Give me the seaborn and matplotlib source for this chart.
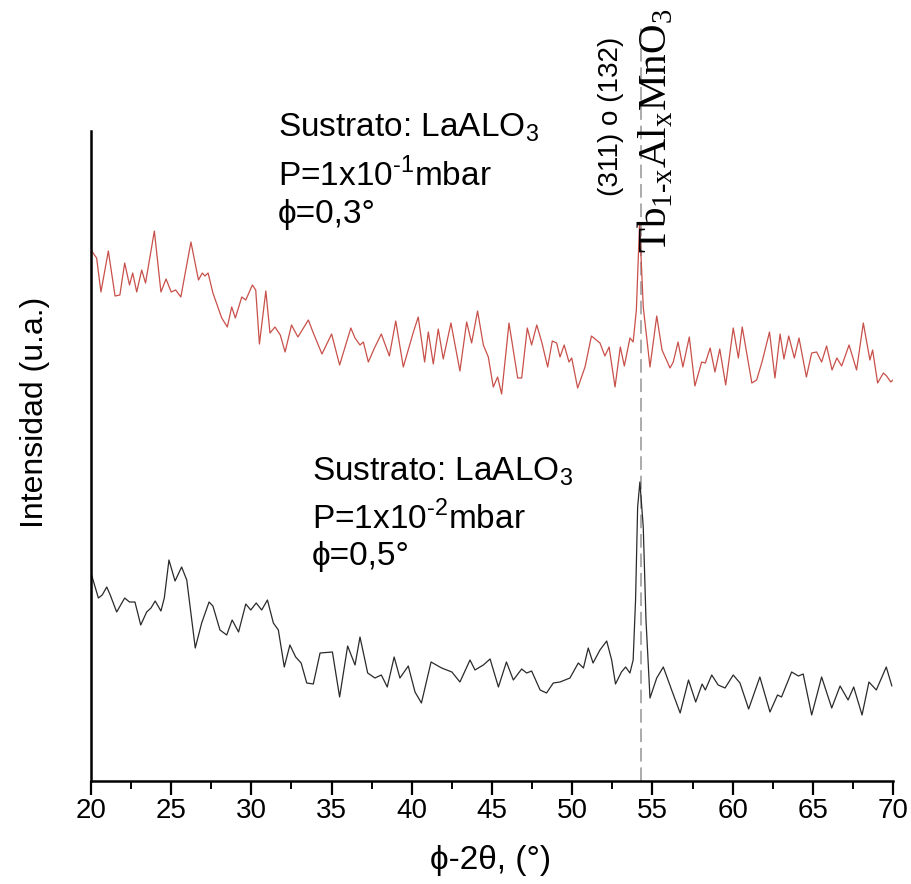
import matplotlib
matplotlib.use("Agg")
import matplotlib.pyplot as plt
import pandas as pd
import seaborn as sns

# Diffractograms (phi-2theta scans) of Tb1-xAlxMnO3 films on LaAlO3, arbitrary units
red_2theta = [20.0, 20.35, 20.62, 21.08, 21.5, 21.8, 22.1, 22.4, 22.6, 22.85,
              23.16, 23.4, 23.95, 24.36, 24.68, 25.0, 25.28, 25.6, 26.23, 26.7,
              26.94, 27.1, 27.3, 27.6, 28.15, 28.5, 28.77, 29.0, 29.4, 29.65,
              30.06, 30.27, 30.5, 30.9, 31.16, 31.47, 31.8, 32.1, 32.5, 32.9,
              33.55, 33.86, 34.4, 35.0, 35.5, 36.2, 36.46, 36.77, 36.98, 37.29,
              37.7, 38.1, 38.6, 39.0, 39.47, 40.1, 40.4, 40.8, 41.03, 41.34,
              41.65, 41.96, 42.44, 43.0, 43.42, 43.73, 44.1, 44.46, 44.77, 45.08,
              45.35, 45.6, 46.06, 46.6, 46.85, 47.2, 47.47, 47.79, 48.1, 48.47,
              48.76, 49.03, 49.24, 49.5, 49.8, 49.97, 50.34, 50.8, 51.2, 51.73,
              52.04, 52.3, 52.67, 53.0, 53.25, 53.6, 53.8, 54.0, 54.2, 54.43,
              54.85, 55.27, 55.6, 56.1, 56.3, 56.6, 56.9, 57.3, 57.65, 58.07,
              58.3, 58.6, 58.9, 59.2, 59.57, 60.04, 60.36, 60.6, 61.2, 61.5,
              61.85, 62.3, 62.64, 62.96, 63.2, 63.5, 63.85, 64.14, 64.6, 64.93,
              65.24, 65.55, 65.86, 66.2, 66.5, 66.8, 67.26, 67.73, 68.15, 68.56,
              68.73, 69.04, 69.4, 69.6, 69.86, 70.0]
red_intensity = [531, 523, 489, 530, 485, 486, 518, 496, 508, 489,
                 511, 498, 550, 489, 502, 489, 491, 484, 539, 501,
                 508, 505, 508, 488, 463, 454, 474, 463, 484, 481,
                 496, 491, 437, 490, 448, 454, 446, 429, 456, 444,
                 461, 448, 427, 447, 416, 453, 443, 436, 439, 419,
                 434, 447, 425, 460, 414, 449, 464, 419, 449, 417,
                 452, 422, 458, 410, 459, 438, 470, 436, 424, 394,
                 404, 387, 458, 403, 403, 453, 436, 456, 439, 414,
                 440, 438, 424, 436, 419, 423, 393, 414, 445, 438,
                 425, 434, 394, 434, 415, 443, 439, 471, 558, 474,
                 414, 465, 431, 413, 419, 439, 414, 444, 395, 419,
                 418, 433, 409, 432, 396, 453, 423, 454, 398, 401,
                 420, 449, 403, 447, 422, 445, 423, 443, 404, 428,
                 429, 419, 435, 411, 423, 415, 436, 411, 458, 421,
                 431, 398, 408, 405, 399, 401]

black_2theta = [20.0, 20.46, 20.7, 20.98, 21.2, 21.6, 22.1, 22.4, 22.74, 23.1,
                23.47, 23.74, 24.0, 24.36, 24.57, 24.86, 25.24, 25.65, 25.97, 26.5,
                26.9, 27.36, 27.6, 28.04, 28.46, 28.8, 29.2, 29.65, 29.96, 30.3,
                30.64, 31.0, 31.37, 31.68, 32.05, 32.4, 32.76, 33.1, 33.45, 33.86,
                34.28, 35.05, 35.5, 36.0, 36.46, 36.77, 37.25, 37.7, 38.1, 38.47,
                38.9, 39.26, 39.78, 40.2, 40.6, 41.2, 41.86, 42.5, 43.0, 43.63,
                43.94, 44.46, 44.88, 45.4, 45.9, 46.33, 46.85, 47.16, 47.47, 48.0,
                48.4, 48.82, 49.24, 49.86, 50.38, 50.7, 51.0, 51.3, 51.73, 52.15,
                52.46, 52.7, 53.07, 53.33, 53.6, 53.8, 53.95, 54.08, 54.22, 54.43,
                54.6, 54.85, 55.27, 55.68, 56.2, 56.73, 57.25, 57.7, 58.1, 58.3,
                58.7, 59.1, 59.53, 60.04, 60.46, 61.0, 61.7, 62.33, 62.8, 63.05,
                63.68, 64.1, 64.4, 64.93, 65.55, 66.18, 66.7, 67.2, 67.55, 68.07,
                68.5, 68.96, 69.58, 69.93]
black_intensity = [208, 183, 186, 194, 186, 169, 183, 179, 179, 156,
                   169, 173, 180, 170, 183, 221, 200, 214, 201, 133,
                   158, 179, 175, 151, 146, 161, 149, 177, 171, 178,
                   171, 181, 158, 151, 114, 136, 124, 118, 98, 97,
                   128, 129, 84, 135, 116, 144, 108, 103, 106, 94,
                   124, 103, 115, 89, 78, 119, 113, 109, 99, 121,
                   111, 116, 122, 94, 119, 101, 112, 108, 110, 91,
                   88, 98, 99, 103, 118, 113, 133, 118, 131, 140,
                   121, 97, 109, 114, 108, 121, 181, 274, 299, 254,
                   161, 83, 103, 114, 91, 68, 101, 79, 97, 91,
                   106, 96, 93, 106, 98, 72, 104, 69, 86, 84,
                   109, 105, 107, 66, 104, 73, 95, 81, 94, 66,
                   99, 91, 114, 95]

x_ticks = [20, 25, 30, 35, 40, 45, 50, 55, 60, 65, 70]
peak_position = 54.3

sns.set_style("ticks")
plt.rcParams['font.family'] = ['Liberation Sans', 'DejaVu Sans']
plt.rcParams['mathtext.fontset'] = 'custom'
plt.rcParams['mathtext.rm'] = 'Liberation Sans'
plt.rcParams['text.color'] = 'black'
plt.rcParams['axes.labelcolor'] = 'black'
plt.rcParams['xtick.color'] = 'black'

W, H = 911, 884
fig = plt.figure(figsize=(W / 100, H / 100), dpi=100)
ax = fig.add_axes([91 / W, 1 - 781 / H, (893 - 91) / W, (781 - 131) / H])

red_df = pd.DataFrame({"two_theta": red_2theta, "intensity": red_intensity})
black_df = pd.DataFrame({"two_theta": black_2theta, "intensity": black_intensity})

sns.lineplot(data=red_df, x="two_theta", y="intensity", ax=ax, color="#c8504a",
             linewidth=0.9, estimator=None, sort=False)
sns.lineplot(data=black_df, x="two_theta", y="intensity", ax=ax, color="#2a2a2a",
             linewidth=0.9, estimator=None, sort=False)

# reference position of the (311)/(132) reflection, extended above the frame
ax.vlines(peak_position, 0, 753, colors="#ababab", linestyles=(0, (7, 3)),
          linewidth=1.4, clip_on=False, zorder=0)

ax.set_xlim(20, 70)
ax.set_ylim(0, 650)
ax.set_xticks(x_ticks)
ax.set_xticks([t + 2.5 for t in x_ticks[:-1]], minor=True)
ax.set_yticks([])
ax.tick_params(axis="x", which="major", direction="out", length=10, width=1.6,
               labelsize=20, pad=2)
ax.tick_params(axis="x", which="minor", direction="out", length=6, width=1.4)
for side in ("top", "right"):
    ax.spines[side].set_visible(False)
for side in ("left", "bottom"):
    ax.spines[side].set_linewidth(1.8)
    ax.spines[side].set_color("black")

ax.set_xlabel("ϕ-2θ, (°)", fontsize=24)
ax.xaxis.set_label_coords(0.498, -(860 - 781) / 650, transform=ax.transAxes)
ax.xaxis.label.set_va("center")
ax.set_ylabel("Intensidad (u.a.)", fontsize=23)
ax.yaxis.set_label_coords(-(91 - 35) / 802, (781 - 412) / 650, transform=ax.transAxes)
ax.yaxis.label.set_va("center")

def fig_text(x, y, s, **kw):
    fig.text(x / W, 1 - y / H, s, **kw)

fs = 24
fig_text(278, 128, r"Sustrato: LaALO$_{\mathregular{3}}$", fontsize=fs, va="center")
fig_text(278, 175, r"P=1x10$^{\mathregular{‐1}}$mbar", fontsize=fs, va="center")
fig_text(278, 214, "ϕ=0,3°", fontsize=fs, va="center")
fig_text(312, 472, r"Sustrato: LaALO$_{\mathregular{3}}$", fontsize=fs, va="center")
fig_text(312, 518, r"P=1x10$^{\mathregular{‐2}}$mbar", fontsize=fs, va="center")
fig_text(312, 556, "ϕ=0,5°", fontsize=fs, va="center")

fig_text(611, 116, "(311) o (132)", fontsize=20, rotation=90, ha="center", va="center")
fig_text(656, 131, r"Tb$_{\mathregular{1‐x}}$Al$_{\mathregular{x}}$MnO$_{\mathregular{3}}$",
         fontsize=29.5, rotation=90, ha="center", va="center",
         family=["Liberation Serif", "DejaVu Serif"])

fig.savefig("out.png", dpi=100)
